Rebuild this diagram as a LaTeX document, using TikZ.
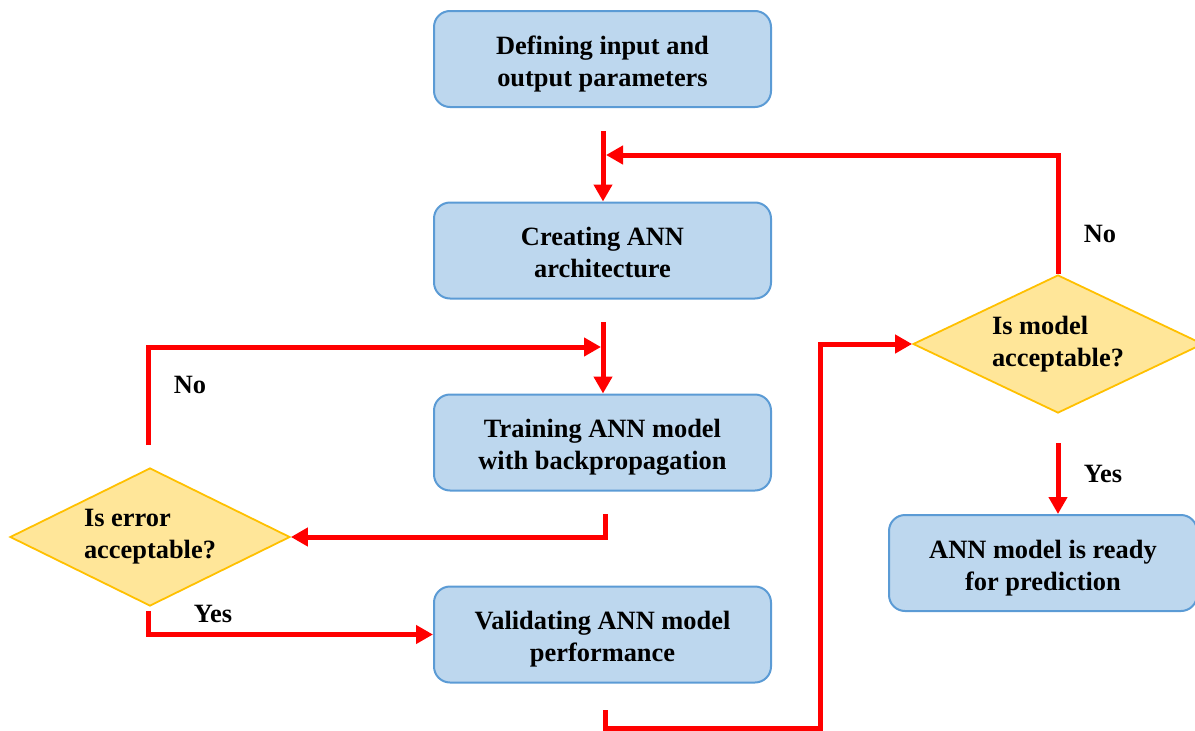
\documentclass[tikz,border=0pt]{standalone}
\usepackage{fontspec}
\setmainfont{Liberation Serif}
\usetikzlibrary{shapes.geometric,arrows.meta}
\definecolor{boxfill}{HTML}{BDD7EE}
\definecolor{boxline}{HTML}{5B9BD5}
\definecolor{dfill}{HTML}{FFE699}
\definecolor{dline}{HTML}{FFC000}
\definecolor{flowred}{HTML}{FF0000}
\newcommand\mytopstrut{\rule{0pt}{28pt}}
\newcommand\mybotstrut{\rule[-6pt]{0pt}{6pt}}
\begin{document}
\begin{tikzpicture}[x=1pt,y=-1pt,
  txt/.style={font=\fontsize{26.4}{32}\selectfont\bfseries},
  stepbox/.style={txt,draw=boxline,fill=boxfill,line width=2pt,rounded corners=16pt,
    minimum width=337pt,minimum height=96pt,align=center,inner sep=0pt},
  decision/.style={txt,diamond,draw=dline,fill=dfill,line width=1.8pt,inner sep=0pt,
    shape aspect=2,minimum height=138pt,align=left},
  flow/.style={draw=flowred,line width=5pt,-{Triangle[length=17pt,width=18pt]}},
  lbl/.style={txt}]
\useasboundingbox (0,0) rectangle (1195,731);

% process boxes
\node[stepbox] (def)   at (602.5,59)   {\mytopstrut Defining input and\\output parameters\mybotstrut};
\node[stepbox] (arch)  at (602.5,250.5) {\mytopstrut Creating ANN\\architecture\mybotstrut};
\node[stepbox] (train) at (602.5,442.5) {\mytopstrut Training ANN model\\with backpropagation\mybotstrut};
\node[stepbox] (val)   at (602.5,634.5) {\mytopstrut Validating ANN model\\performance\mybotstrut};
\node[stepbox,minimum width=308pt] (ready) at (1043,563) {\mytopstrut ANN model is ready\\for prediction\mybotstrut};

% decisions
\node[decision,minimum width=280pt] (err)   at (150,537)  {Is error\\acceptable?};
\node[decision,minimum width=290pt] (model) at (1058,344) {Is model\\acceptable?};

% free connector ends
\coordinate (a1) at (603,131);
\coordinate (a2) at (606,155);
\coordinate (b1) at (603,322);
\coordinate (c1) at (148,445);
\coordinate (c2) at (601,347);
\coordinate (d1) at (605,514);
\coordinate (e1) at (148,611);
\coordinate (f1) at (605,710);
\coordinate (f2) at (820,728);
\coordinate (g1) at (1058,443);

% connectors
\draw[flow] (a1) -- (a1 |- arch.north);
\draw[flow] (model.north) |- (a2);
\draw[flow] (b1) -- (b1 |- train.north);
\draw[flow] (c1) |- (c2);
\draw[flow] (d1) |- (err.east);
\draw[flow] (e1) |- (val.west);
\draw[flow] (f1) |- (f2) |- (model.west);
\draw[flow] (g1) -- (g1 |- ready.north);

% labels
\node[lbl] (no1)  at (190,385)  {No};
\node[lbl] (yes1) at (213,614)  {Yes};
\node[lbl] (no2)  at (1100,234) {No};
\node[lbl] (yes2) at (1103,474) {Yes};
\end{tikzpicture}
\end{document}
